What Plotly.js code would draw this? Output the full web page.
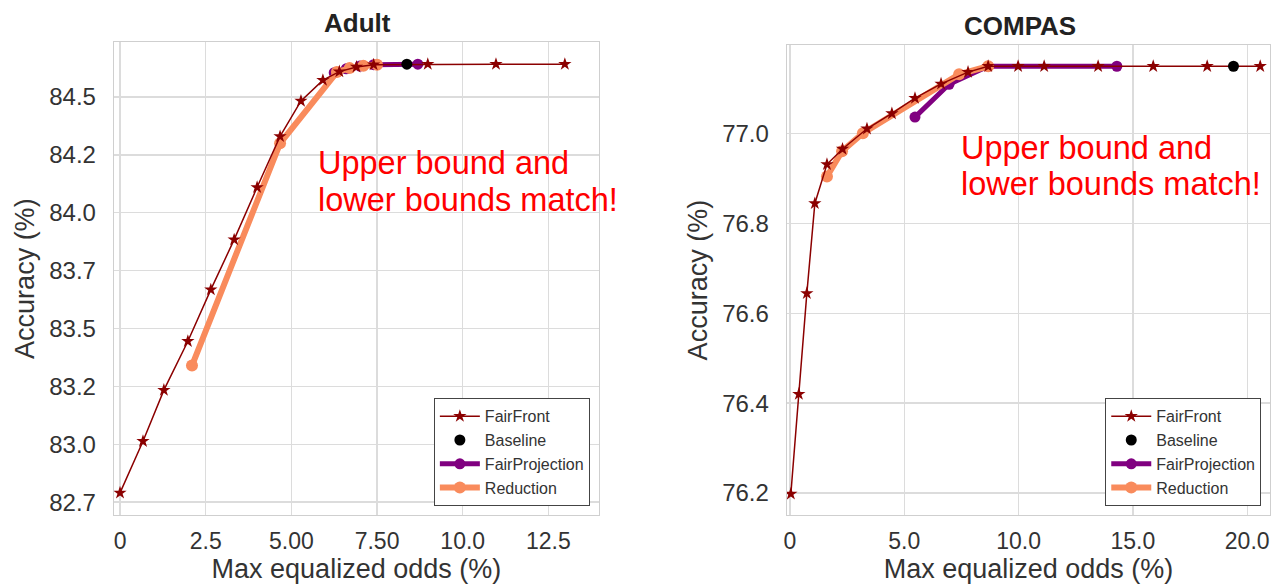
<!DOCTYPE html>
<html>
<head>
<meta charset="utf-8">
<script src="https://cdn.plot.ly/plotly-3.0.1.min.js"></script>
<style>html,body{margin:0;padding:0;background:#fff;}#chart{width:1274px;height:586px;}</style>
</head>
<body>
<div id="chart"></div>
<script>
// ---- Adult data ----
const adultFairFrontX = [0, 0.67, 1.28, 1.98, 2.65, 3.33, 4.0, 4.67, 5.28, 5.92, 6.4, 6.9, 7.4, 8.98, 10.97, 12.98];
const adultFairFrontY = [82.79, 83.013, 83.234, 83.445, 83.668, 83.884, 84.11, 84.33, 84.483, 84.573, 84.61, 84.63, 84.64, 84.642, 84.642, 84.642];
const adultBaselineX = [8.37];
const adultBaselineY = [84.642];
const adultFairProjX = [6.25, 6.6, 7.0, 7.4, 8.69];
const adultFairProjY = [84.605, 84.622, 84.634, 84.64, 84.642];
const adultReductionX = [2.1, 4.67, 6.33, 6.7, 7.1, 7.5];
const adultReductionY = [83.34, 84.3, 84.608, 84.625, 84.635, 84.64];

// ---- COMPAS data ----
const compasFairFrontX = [0.04, 0.39, 0.74, 1.09, 1.62, 2.3, 3.37, 4.46, 5.47, 6.61, 7.79, 8.67, 9.98, 11.12, 13.48, 15.89, 18.25, 20.57];
const compasFairFrontY = [76.198, 76.42, 76.644, 76.844, 76.931, 76.965, 77.01, 77.044, 77.078, 77.11, 77.136, 77.149, 77.149, 77.149, 77.149, 77.149, 77.149, 77.149];
const compasBaselineX = [19.4];
const compasBaselineY = [77.149];
const compasFairProjX = [5.47, 6.96, 8.67, 14.3];
const compasFairProjY = [77.036, 77.109, 77.149, 77.149];
const compasReductionX = [1.62, 2.28, 3.19, 7.4, 8.67];
const compasReductionY = [76.904, 76.96, 77.0, 77.131, 77.149];

// ---- tick labels ----
const adultYTickVals = [82.75, 83.0, 83.25, 83.5, 83.75, 84.0, 84.25, 84.5];
const adultYTickText = ['82.7', '83.0', '83.2', '83.5', '83.7', '84.0', '84.2', '84.5'];
const adultXTickVals = [0, 2.5, 5, 7.5, 10, 12.5];
const adultXTickText = ['0', '2.5', '5.00', '7.50', '10.0', '12.5'];
const compasYTickVals = [76.2, 76.4, 76.6, 76.8, 77.0];
const compasYTickText = ['76.2', '76.4', '76.6', '76.8', '77.0'];
const compasXTickVals = [0, 5, 10, 15, 20];
const compasXTickText = ['0', '5.0', '10.0', '15.0', '20.0'];

const C_FF = '#8b0000', C_BASE = '#000000', C_FP = '#800080', C_RED = '#f98b5c';
const FAM = 'Liberation Sans, Arial, sans-serif';

function series(xa, ya, legend, show, data) {
  const [ffx, ffy, bx, by, fpx, fpy, rx, ry] = data;
  return [
    {x: fpx, y: fpy, xaxis: xa, yaxis: ya, mode: 'lines+markers', name: 'FairProjection', legend: legend, showlegend: show, legendrank: 3,
     line: {color: C_FP, width: 5}, marker: {color: C_FP, size: 11, symbol: 'circle'}},
    {x: rx, y: ry, xaxis: xa, yaxis: ya, mode: 'lines+markers', name: 'Reduction', legend: legend, showlegend: show, legendrank: 4,
     line: {color: C_RED, width: 6}, marker: {color: C_RED, size: 12, symbol: 'circle'}},
    {x: ffx, y: ffy, xaxis: xa, yaxis: ya, mode: 'lines+markers', name: 'FairFront', legend: legend, showlegend: show, legendrank: 1,
     line: {color: C_FF, width: 1.5}, marker: {color: C_FF, size: 10, symbol: 'star'}},
    {x: bx, y: by, xaxis: xa, yaxis: ya, mode: 'markers', name: 'Baseline', legend: legend, showlegend: show, legendrank: 2,
     marker: {color: C_BASE, size: 11, symbol: 'circle'}}
  ];
}

const traces = [].concat(
  series('x', 'y', 'legend', true, [adultFairFrontX, adultFairFrontY, adultBaselineX, adultBaselineY, adultFairProjX, adultFairProjY, adultReductionX, adultReductionY]),
  series('x2', 'y2', 'legend2', true, [compasFairFrontX, compasFairFrontY, compasBaselineX, compasBaselineY, compasFairProjX, compasFairProjY, compasReductionX, compasReductionY])
);

const yTickFont = {family: FAM, size: 24, color: '#333'};
const xTickFont = {family: FAM, size: 23, color: '#333'};
function xax(domain, range, vals, text) {
  return {domain: domain, range: range, tickvals: vals, ticktext: text, tickfont: xTickFont,
    showgrid: true, gridcolor: '#dcdcdc', gridwidth: 1.3, zeroline: false, showline: true, linecolor: '#cfcfcf', linewidth: 1.3, mirror: true,
    ticks: 'outside', ticklen: 5, tickcolor: 'rgba(0,0,0,0)', automargin: false,
    title: {text: 'Max equalized odds (%)', font: {family: FAM, size: 27, color: '#333'}, standoff: 0}};
}
function yax(domain, range, vals, text, anchor) {
  return {domain: domain, range: range, tickvals: vals, ticktext: text, tickfont: yTickFont, anchor: anchor,
    showgrid: true, gridcolor: '#dcdcdc', gridwidth: 1.3, zeroline: false, showline: true, linecolor: '#cfcfcf', linewidth: 1.3, mirror: true,
    ticks: 'outside', ticklen: 12, tickcolor: 'rgba(0,0,0,0)', automargin: false,
    title: {text: 'Accuracy (%)', font: {family: FAM, size: 27, color: '#333'}, standoff: 6}};
}
const legFont = {family: FAM, size: 16, color: '#333'};
const layout = {
  width: 1274, height: 586,
  margin: {l: 0, r: 0, t: 0, b: 0},
  paper_bgcolor: '#fff', plot_bgcolor: '#fff',
  showlegend: true,
  xaxis: xax([0.0895, 0.470], [-0.175, 13.97], adultXTickVals, adultXTickText),
  yaxis: yax([0.121, 0.928], [82.694, 84.737], adultYTickVals, adultYTickText, 'x'),
  xaxis2: Object.assign(xax([0.6177, 0.9969], [-0.13, 21.0], compasXTickVals, compasXTickText), {anchor: 'y2'}),
  yaxis2: yax([0.121, 0.923], [76.151, 77.196], compasYTickVals, compasYTickText, 'x2'),
  legend: {x: 0.463, y: 0.136, xanchor: 'right', yanchor: 'bottom', bgcolor: '#fff', bordercolor: '#444', borderwidth: 1,
    font: legFont, traceorder: 'normal', tracegroupgap: 0, itemwidth: 40},
  legend2: {x: 0.990, y: 0.136, xanchor: 'right', yanchor: 'bottom', bgcolor: '#fff', bordercolor: '#444', borderwidth: 1,
    font: legFont, traceorder: 'normal', tracegroupgap: 0, itemwidth: 40},
  annotations: [
    {text: '<b>Adult</b>', xref: 'paper', yref: 'paper', x: 357/1274, y: 1 - 23/586, xanchor: 'center', yanchor: 'middle', showarrow: false,
     font: {family: FAM, size: 26, color: '#222'}},
    {text: '<b>COMPAS</b>', xref: 'paper', yref: 'paper', x: 1020/1274, y: 1 - 26/586, xanchor: 'center', yanchor: 'middle', showarrow: false,
     font: {family: FAM, size: 26, color: '#222'}},
    {text: 'Upper bound and', xref: 'paper', yref: 'paper', x: 316/1274, y: 1 - 163/586, xanchor: 'left', yanchor: 'middle', showarrow: false,
     font: {family: FAM, size: 32.5, color: '#ff0000'}},
    {text: 'lower bounds match!', xref: 'paper', yref: 'paper', x: 316/1274, y: 1 - 200/586, xanchor: 'left', yanchor: 'middle', showarrow: false,
     font: {family: FAM, size: 32.5, color: '#ff0000'}},
    {text: 'Upper bound and', xref: 'paper', yref: 'paper', x: 959/1274, y: 1 - 148/586, xanchor: 'left', yanchor: 'middle', showarrow: false,
     font: {family: FAM, size: 32.5, color: '#ff0000'}},
    {text: 'lower bounds match!', xref: 'paper', yref: 'paper', x: 959/1274, y: 1 - 184/586, xanchor: 'left', yanchor: 'middle', showarrow: false,
     font: {family: FAM, size: 32.5, color: '#ff0000'}}
  ]
};
Plotly.newPlot('chart', traces, layout, {displayModeBar: false, staticPlot: true});
</script>
</body>
</html>
